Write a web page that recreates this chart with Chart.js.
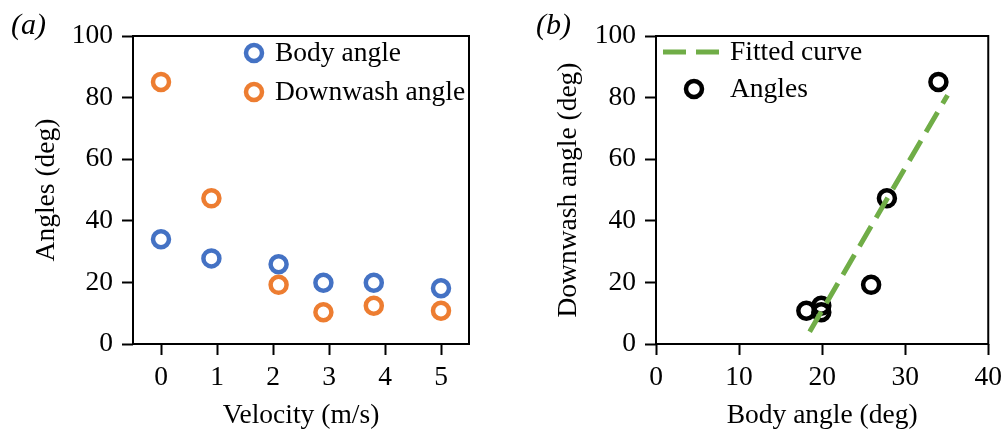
<!DOCTYPE html>
<html><head><meta charset="utf-8">
<script src="https://cdn.jsdelivr.net/npm/chart.js@4.4.1/dist/chart.umd.min.js"></script>
<style>
html,body{margin:0;padding:0;background:#fff;}
#wrap{position:relative;width:1008px;height:433px;overflow:hidden;background:#fff;}
.panel{position:absolute;top:0;width:504px;height:433px;}
.plabel{position:absolute;font-family:"Liberation Serif",serif;font-style:italic;font-size:30px;line-height:30px;color:#000;}
</style></head><body>
<div id="wrap">
  <div class="panel" style="left:0"><canvas id="ca" width="504" height="433"></canvas></div>
  <div class="panel" style="left:504px"><canvas id="cb" width="504" height="433"></canvas></div>
  <div class="plabel" style="left:11px;top:9px">(a)</div>
  <div class="plabel" style="left:536px;top:9px">(b)</div>
</div>
<script>
// ---- data ----
const velocity      = [0, 0.9, 2.1, 2.9, 3.8, 5.0];
const bodyAngle     = [34.0, 27.8, 25.9, 19.9, 19.9, 18.1];
const downwashAngle = [85.1, 47.3, 19.2, 10.3, 12.4, 10.8];
const fitX = [18.5, 35.1];
const fitY = [4.0, 80.8];
const xTicksA = [0, 1, 2, 3, 4, 5];
const xTicksB = [0, 10, 20, 30, 40];
const yTicks  = [0, 20, 40, 60, 80, 100];
const legendA = ['Body angle', 'Downwash angle'];
const legendB = ['Fitted curve', 'Angles'];

const BLUE = '#4472C4', ORANGE = '#ED7D31', GREEN = '#70AD47';
const FONT = {family: '"Liberation Serif", serif', size: 27.5};

const framePlugin = {
  id: 'frame',
  beforeDatasetsDraw(chart) {
    const a = chart.chartArea, ctx = chart.ctx;
    ctx.save();
    ctx.strokeStyle = '#000';
    ctx.lineWidth = 2;
    ctx.strokeRect(a.left, a.top, a.right - a.left, a.bottom - a.top);
    ctx.restore();
  }
};

const legendPlugin = {
  id: 'inlegend',
  afterDatasetsDraw(chart, args, opts) {
    const ctx = chart.ctx;
    ctx.save();
    ctx.font = FONT.size + 'px ' + FONT.family;
    ctx.fillStyle = '#000';
    ctx.textBaseline = 'middle';
    ctx.textAlign = 'left';
    opts.items.forEach(it => {
      const ds = chart.data.datasets[it.ds];
      if (it.kind === 'line') {
        ctx.beginPath();
        ctx.strokeStyle = ds.borderColor;
        ctx.lineWidth = ds.borderWidth;
        ctx.setLineDash(ds.borderDash || []);
        ctx.moveTo(it.x1, it.y); ctx.lineTo(it.x2, it.y);
        ctx.stroke();
        ctx.setLineDash([]);
      } else {
        ctx.beginPath();
        ctx.strokeStyle = ds.borderColor;
        ctx.lineWidth = ds.borderWidth;
        ctx.arc(it.x, it.y, ds.pointRadius, 0, Math.PI * 2);
        ctx.stroke();
      }
      ctx.fillText(ds.label, opts.textX, it.y + 1);
    });
    ctx.restore();
  }
};

function axisCommon(ticksArr, min, max, titleText, titlePad, isX, size) {
  return {
    type: 'linear', min, max,
    afterBuildTicks: s => { s.ticks = ticksArr.map(v => ({value: v})); },
    ticks: {font: FONT, color: '#000', padding: isX ? 6 : 9},
    grid: {drawOnChartArea: false, drawTicks: true, tickLength: 11, tickWidth: 2, tickColor: '#000'},
    border: {display: false},
    title: {display: true, text: titleText, font: FONT, color: '#000', padding: titlePad},
    afterFit: s => { if (isX) s.height = size; else s.width = size; }
  };
}

Chart.defaults.font.family = FONT.family;
Chart.defaults.color = '#000';

new Chart(document.getElementById('ca'), {
  type: 'scatter',
  data: {
    datasets: [
      {label: legendA[0], data: velocity.map((v, i) => ({x: v, y: bodyAngle[i]})),
       borderColor: BLUE, backgroundColor: 'rgba(0,0,0,0)', borderWidth: 4.5, pointRadius: 8, order: 2},
      {label: legendA[1], data: velocity.map((v, i) => ({x: v, y: downwashAngle[i]})),
       borderColor: ORANGE, backgroundColor: 'rgba(0,0,0,0)', borderWidth: 4.5, pointRadius: 8, order: 1}
    ]
  },
  options: {
    responsive: false, animation: false, events: [], devicePixelRatio: 1,
    layout: {padding: {left: 0, top: 36, right: 35, bottom: 0}},
    plugins: {
      legend: {display: false}, tooltip: {enabled: false},
      inlegend: {textX: 275, items: [{ds: 0, x: 254, y: 53}, {ds: 1, x: 254, y: 92}]}
    },
    scales: {
      x: axisCommon(xTicksA, -0.5, 5.5, 'Velocity (m/s)', {top: 4, bottom: 1}, true, 89),
      y: axisCommon(yTicks, 0, 100, 'Angles (deg)', {top: 30, bottom: 0}, false, 133)
    }
  },
  plugins: [framePlugin, legendPlugin]
});

new Chart(document.getElementById('cb'), {
  type: 'scatter',
  data: {
    datasets: [
      {label: legendB[0], data: fitX.map((v, i) => ({x: v, y: fitY[i]})), showLine: true,
       borderColor: GREEN, backgroundColor: GREEN, borderWidth: 5, borderDash: [23, 10],
       borderCapStyle: 'butt', pointRadius: 0, order: 0},
      {label: legendB[1], data: bodyAngle.map((v, i) => ({x: v, y: downwashAngle[i]})),
       borderColor: '#000', backgroundColor: 'rgba(0,0,0,0)', borderWidth: 4.5, pointRadius: 8, order: 1}
    ]
  },
  options: {
    responsive: false, animation: false, events: [], devicePixelRatio: 1,
    layout: {padding: {left: 0, top: 36, right: 17, bottom: 0}},
    plugins: {
      legend: {display: false}, tooltip: {enabled: false},
      inlegend: {textX: 226, items: [{ds: 0, kind: 'line', x1: 159, x2: 216, y: 52}, {ds: 1, x: 190, y: 89}]}
    },
    scales: {
      x: axisCommon(xTicksB, 0, 40, 'Body angle (deg)', {top: 4, bottom: 1}, true, 89),
      y: axisCommon(yTicks, 0, 100, 'Downwash angle (deg)', {top: 48, bottom: 0}, false, 152)
    }
  },
  plugins: [framePlugin, legendPlugin]
});
</script>
</body></html>
